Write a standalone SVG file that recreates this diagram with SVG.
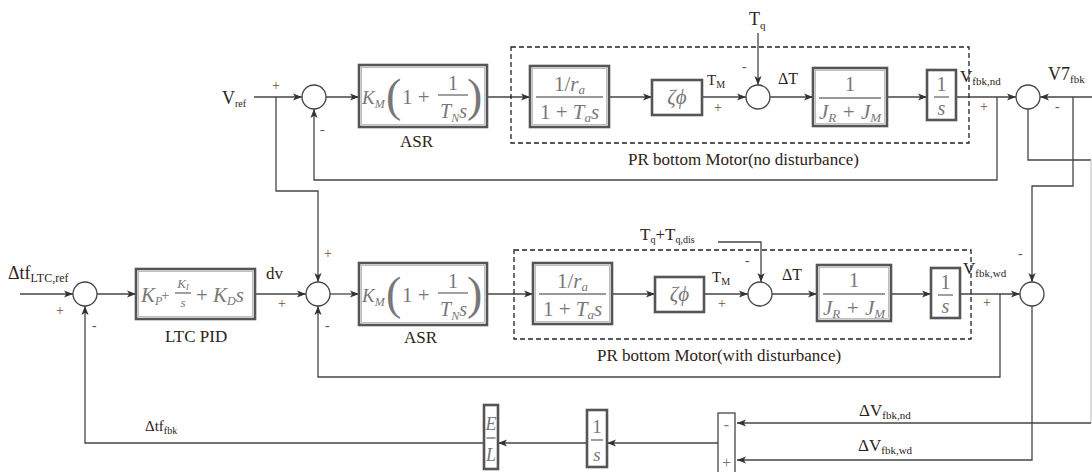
<svg xmlns="http://www.w3.org/2000/svg" width="1092" height="472" viewBox="0 0 1092 472">
<style>
.bg{fill:#ffffff}
.ln{fill:none;stroke:#454545;stroke-width:1.3}
.lt{fill:none;stroke:#c8c8c8;stroke-width:1.3}
.blk{fill:#ffffff;stroke:#555555;stroke-width:2.6}
.blk2{fill:none;stroke:#b0b0b0;stroke-width:0.8}
.sum{fill:#ffffff;stroke:#454545;stroke-width:1.3}
.dash{fill:none;stroke:#222222;stroke-width:1.3;stroke-dasharray:5 3}
.lab{font-family:"Liberation Serif","Times New Roman",serif;fill:#2e2218}
.sg{font-family:"Liberation Serif","Times New Roman",serif;fill:#7a4a30;font-size:14px}
.mi{font-family:"Liberation Serif","Times New Roman",serif;font-style:italic;fill:#777777}
.mn{font-family:"Liberation Serif","Times New Roman",serif;fill:#777777}
.bar{stroke:#777777;stroke-width:1.4}
</style>
<defs>
<marker id="ah" viewBox="0 0 10 8" refX="10" refY="4" markerWidth="9" markerHeight="7.5" orient="auto" markerUnits="userSpaceOnUse">
<path d="M0,0 L10,4 L0,8 L2.5,4 z" fill="#333333"/>
</marker>
</defs>
<rect class="bg" x="0" y="0" width="1092" height="472"/>

<!-- connectors -->
<g id="connectors">
<path class="ln" d="M254,97 H302" marker-end="url(#ah)"/>
<path class="ln" d="M326,97 H359" marker-end="url(#ah)"/>
<path class="ln" d="M487,97 H530" marker-end="url(#ah)"/>
<path class="ln" d="M609,97 H652" marker-end="url(#ah)"/>
<path class="ln" d="M702,97 H746" marker-end="url(#ah)"/>
<path class="ln" d="M758,33 V85" marker-end="url(#ah)"/>
<path class="ln" d="M770,97 H813" marker-end="url(#ah)"/>
<path class="ln" d="M887,97 H927" marker-end="url(#ah)"/>
<path class="ln" d="M956,97 H1016" marker-end="url(#ah)"/>
<path class="ln" d="M1092,97 H1040" marker-end="url(#ah)"/>
<path class="ln" d="M997,97 V180 H314 V109" marker-end="url(#ah)"/>
<path class="ln" d="M276,97 V191 H318 V282" marker-end="url(#ah)"/>
<path class="ln" d="M1028,109 V160 H1091"/>
<path class="lt" d="M1091,160 V423"/>
<path class="ln" d="M1091,423 H737" marker-end="url(#ah)"/>
<path class="ln" d="M1073,97 V186 H1032 V282" marker-end="url(#ah)"/>

<path class="ln" d="M20,294 H73" marker-end="url(#ah)"/>
<path class="ln" d="M97,294 H136" marker-end="url(#ah)"/>
<path class="ln" d="M255,294 H306" marker-end="url(#ah)"/>
<path class="ln" d="M330,294 H359" marker-end="url(#ah)"/>
<path class="ln" d="M487,294 H533" marker-end="url(#ah)"/>
<path class="ln" d="M611,294 H655" marker-end="url(#ah)"/>
<path class="ln" d="M704,294 H748" marker-end="url(#ah)"/>
<path class="ln" d="M718,242 H761 V282" marker-end="url(#ah)"/>
<path class="ln" d="M772,294 H817" marker-end="url(#ah)"/>
<path class="ln" d="M891,294 H931" marker-end="url(#ah)"/>
<path class="ln" d="M960,294 H1020" marker-end="url(#ah)"/>
<path class="ln" d="M1000,294 V377 H318 V306" marker-end="url(#ah)"/>
<path class="ln" d="M1032,306 V460 H737" marker-end="url(#ah)"/>

<path class="ln" d="M718,443 H607" marker-end="url(#ah)"/>
<path class="ln" d="M587,443 H498" marker-end="url(#ah)"/>
<path class="ln" d="M484,443 H85 V306" marker-end="url(#ah)"/>
</g>

<!-- dashed motor boxes -->
<g id="motor-nd">
<rect class="dash" x="511" y="47" width="458" height="96"/>
<text class="lab" x="628" y="165" font-size="17">PR bottom Motor(no disturbance)</text>
</g>
<g id="motor-wd">
<rect class="dash" x="514" y="250" width="457" height="89"/>
<text class="lab" x="597" y="361" font-size="17">PR bottom Motor(with disturbance)</text>
</g>

<!-- sums -->
<g id="sum1"><circle class="sum" cx="314" cy="97" r="12"/></g>
<g id="sum2"><circle class="sum" cx="758" cy="97" r="12"/></g>
<g id="sum3"><circle class="sum" cx="1028" cy="97" r="12"/></g>
<g id="sumA"><circle class="sum" cx="85" cy="294" r="12"/></g>
<g id="sumB"><circle class="sum" cx="318" cy="294" r="12"/></g>
<g id="sum5"><circle class="sum" cx="760" cy="294" r="12"/></g>
<g id="sum4"><circle class="sum" cx="1032" cy="294" r="12"/></g>

<!-- ASR row 1 -->
<g id="asr1" transform="translate(359,65)">
<rect class="blk" x="0" y="0" width="128" height="62"/>
<rect class="blk2" x="2.5" y="2.5" width="123" height="57"/>
<text class="mi" x="3" y="39" font-size="19">K<tspan font-size="12" dy="4">M</tspan></text>
<text class="mn" x="27" y="46" font-size="46">(</text>
<text class="mn" x="43" y="39" font-size="21">1 +</text>
<text class="mn" x="94" y="25" font-size="20" text-anchor="middle">1</text>
<line class="bar" x1="79" y1="30" x2="109" y2="30"/>
<text class="mi" x="81" y="53" font-size="20">T<tspan font-size="12" dy="4">N</tspan><tspan dy="-4">s</tspan></text>
<text class="mn" x="108" y="46" font-size="46">)</text>
<text class="lab" x="41" y="82" font-size="17">ASR</text>
</g>

<!-- ASR row 2 -->
<g id="asr2" transform="translate(359,263)">
<rect class="blk" x="0" y="0" width="128" height="62"/>
<rect class="blk2" x="2.5" y="2.5" width="123" height="57"/>
<text class="mi" x="3" y="39" font-size="19">K<tspan font-size="12" dy="4">M</tspan></text>
<text class="mn" x="27" y="46" font-size="46">(</text>
<text class="mn" x="43" y="39" font-size="21">1 +</text>
<text class="mn" x="94" y="25" font-size="20" text-anchor="middle">1</text>
<line class="bar" x1="79" y1="30" x2="109" y2="30"/>
<text class="mi" x="81" y="53" font-size="20">T<tspan font-size="12" dy="4">N</tspan><tspan dy="-4">s</tspan></text>
<text class="mn" x="108" y="46" font-size="46">)</text>
<text class="lab" x="45" y="80" font-size="17">ASR</text>
</g>

<!-- Ra boxes -->
<g id="ra1" transform="translate(530,66)">
<rect class="blk" x="0" y="0" width="79" height="61"/>
<rect class="blk2" x="2.5" y="2.5" width="74" height="56"/>
<text class="mn" x="39.5" y="25" font-size="21" text-anchor="middle">1/<tspan class="mi">r</tspan><tspan class="mi" font-size="13" dy="3">a</tspan></text>
<line class="bar" x1="6" y1="31" x2="73" y2="31"/>
<text class="mn" x="39.5" y="53" font-size="21" text-anchor="middle">1 + <tspan class="mi">T</tspan><tspan class="mi" font-size="13" dy="3">a</tspan><tspan class="mi" dy="-3">s</tspan></text>
</g>
<g id="ra2" transform="translate(533,263)">
<rect class="blk" x="0" y="0" width="79" height="61"/>
<rect class="blk2" x="2.5" y="2.5" width="74" height="56"/>
<text class="mn" x="39.5" y="25" font-size="21" text-anchor="middle">1/<tspan class="mi">r</tspan><tspan class="mi" font-size="13" dy="3">a</tspan></text>
<line class="bar" x1="6" y1="31" x2="73" y2="31"/>
<text class="mn" x="39.5" y="53" font-size="21" text-anchor="middle">1 + <tspan class="mi">T</tspan><tspan class="mi" font-size="13" dy="3">a</tspan><tspan class="mi" dy="-3">s</tspan></text>
</g>

<!-- zeta phi -->
<g id="zeta1" transform="translate(652,80)">
<rect class="blk" x="0" y="0" width="50" height="35"/>
<text class="mi" x="25" y="24" font-size="21" text-anchor="middle" fill="#666666">ζϕ</text>
</g>
<g id="zeta2" transform="translate(655,277)">
<rect class="blk" x="0" y="0" width="49" height="35"/>
<text class="mi" x="24.5" y="24" font-size="21" text-anchor="middle" fill="#666666">ζϕ</text>
</g>

<!-- inertia -->
<g id="j1" transform="translate(813,68)">
<rect class="blk" x="0" y="0" width="74" height="58"/>
<rect class="blk2" x="2.5" y="2.5" width="69" height="53"/>
<text class="mn" x="37" y="23" font-size="20" text-anchor="middle">1</text>
<line class="bar" x1="6" y1="30" x2="68" y2="30"/>
<text class="mi" x="37" y="51" font-size="21" text-anchor="middle">J<tspan font-size="13" dy="3">R</tspan><tspan class="mn" dy="-3"> + </tspan>J<tspan font-size="13" dy="3">M</tspan></text>
</g>
<g id="j2" transform="translate(817,265)">
<rect class="blk" x="0" y="0" width="74" height="56"/>
<rect class="blk2" x="2.5" y="2.5" width="69" height="51"/>
<text class="mn" x="37" y="22" font-size="20" text-anchor="middle">1</text>
<line class="bar" x1="6" y1="29" x2="68" y2="29"/>
<text class="mi" x="37" y="50" font-size="21" text-anchor="middle">J<tspan font-size="13" dy="3">R</tspan><tspan class="mn" dy="-3"> + </tspan>J<tspan font-size="13" dy="3">M</tspan></text>
</g>

<!-- integrators -->
<g id="int1" transform="translate(927,70)">
<rect class="blk" x="0" y="0" width="29" height="50"/>
<text class="mn" x="14.5" y="21" font-size="20" text-anchor="middle">1</text>
<line class="bar" x1="7" y1="27" x2="22" y2="27"/>
<text class="mi" x="14.5" y="45" font-size="20" text-anchor="middle">s</text>
</g>
<g id="int2" transform="translate(931,268)">
<rect class="blk" x="0" y="0" width="29" height="50"/>
<text class="mn" x="14.5" y="21" font-size="20" text-anchor="middle">1</text>
<line class="bar" x1="7" y1="27" x2="22" y2="27"/>
<text class="mi" x="14.5" y="45" font-size="20" text-anchor="middle">s</text>
</g>
<g id="int3" transform="translate(587,410)">
<rect class="blk" x="0" y="0" width="20" height="57"/>
<text class="mn" x="10" y="23" font-size="19" text-anchor="middle">1</text>
<line class="bar" x1="4" y1="30" x2="16" y2="30"/>
<text class="mi" x="10" y="51" font-size="19" text-anchor="middle">s</text>
</g>

<!-- E/L -->
<g id="el" transform="translate(484,405)">
<rect class="blk" x="0" y="0" width="14" height="64"/>
<text class="mi" x="7" y="25" font-size="18" text-anchor="middle">E</text>
<line class="bar" x1="2.5" y1="33" x2="11.5" y2="33"/>
<text class="mi" x="7" y="56" font-size="18" text-anchor="middle">L</text>
</g>

<!-- PID -->
<g id="pid" transform="translate(136,269)">
<rect class="blk" x="0" y="0" width="119" height="50"/>
<rect class="blk2" x="2.5" y="2.5" width="114" height="45"/>
<text class="mi" x="5" y="33" font-size="21">K<tspan font-size="12" dy="3">P</tspan></text>
<text class="mn" x="25" y="31" font-size="15">+</text>
<text class="mi" x="47" y="19" font-size="13" text-anchor="middle">K<tspan font-size="9" dy="2">I</tspan></text>
<line class="bar" x1="39" y1="24" x2="55" y2="24" stroke-width="1"/>
<text class="mi" x="47" y="38" font-size="13" text-anchor="middle">s</text>
<text class="mn" x="60" y="33" font-size="21">+</text>
<text class="mi" x="77" y="33" font-size="21">K<tspan font-size="12" dy="3">D</tspan><tspan dy="-3">s</tspan></text>
<text class="lab" x="29" y="73" font-size="17">LTC PID</text>
</g>

<!-- subtractor -->
<g id="subtract">
<rect x="718" y="413" width="17" height="70" fill="#ffffff" stroke="#454545" stroke-width="1.3"/>
<text class="mn" x="726.5" y="430" font-size="16" text-anchor="middle" fill="#555">-</text>
<text class="mn" x="726.5" y="468" font-size="16" text-anchor="middle" fill="#555">+</text>
</g>

<!-- labels -->
<g id="labels">
<text class="lab" x="222" y="104" font-size="18">V<tspan font-size="10" dy="3">ref</tspan></text>
<text class="lab" x="749" y="25" font-size="18">T<tspan font-size="11" dy="4">q</tspan></text>
<text class="lab" x="707" y="85" font-size="15">T<tspan font-size="10" dy="3">M</tspan></text>
<text class="lab" x="778" y="84" font-size="16">ΔT</text>
<text class="lab" x="960" y="82" font-size="17">V<tspan font-size="11" dy="3">fbk,nd</tspan></text>
<text class="lab" x="1048" y="80" font-size="18">V7<tspan font-size="11" dy="3">fbk</tspan></text>

<text class="lab" x="8" y="279" font-size="18">Δtf<tspan font-size="12" dy="3">LTC,ref</tspan></text>
<text class="lab" x="266" y="279" font-size="17">dv</text>
<text class="lab" x="640" y="240" font-size="17">T<tspan font-size="10" dy="3">q</tspan><tspan dy="-3">+T</tspan><tspan font-size="10" dy="3">q,dis</tspan></text>
<text class="lab" x="712" y="282" font-size="15">T<tspan font-size="10" dy="3">M</tspan></text>
<text class="lab" x="782" y="280" font-size="16">ΔT</text>
<text class="lab" x="963" y="274" font-size="17">V<tspan font-size="11" dy="3">fbk,wd</tspan></text>

<text class="lab" x="859" y="416" font-size="17">ΔV<tspan font-size="11" dy="3">fbk,nd</tspan></text>
<text class="lab" x="858" y="451" font-size="17">ΔV<tspan font-size="11" dy="3">fbk,wd</tspan></text>
<text class="lab" x="145" y="431" font-size="15">Δtf<tspan font-size="10" dy="3">fbk</tspan></text>

<text class="sg" x="272" y="90">+</text>
<text class="sg" x="320" y="134">-</text>
<text class="sg" x="742" y="71">-</text>
<text class="sg" x="714" y="112">+</text>
<text class="sg" x="980" y="111">+</text>
<text class="sg" x="1055" y="111">-</text>
<text class="sg" x="56" y="315">+</text>
<text class="sg" x="92" y="330">-</text>
<text class="sg" x="278" y="308">+</text>
<text class="sg" x="324" y="258">+</text>
<text class="sg" x="325" y="330">-</text>
<text class="sg" x="745" y="265">-</text>
<text class="sg" x="718" y="308">+</text>
<text class="sg" x="983" y="307">+</text>
<text class="sg" x="1018" y="258">-</text>
</g>
</svg>
